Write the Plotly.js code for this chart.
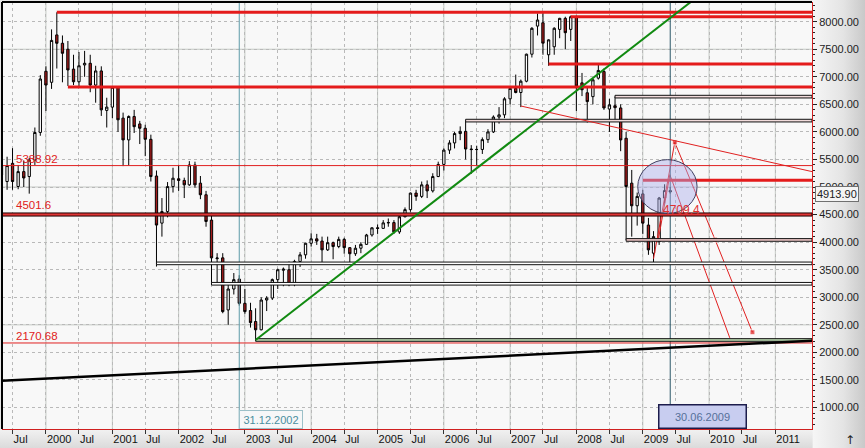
<!DOCTYPE html>
<html><head><meta charset="utf-8">
<script src="https://cdn.plot.ly/plotly-3.0.1.min.js"></script>
<style>html,body{margin:0;padding:0;background:#e8e8e8}#chart{width:865px;height:448px}</style>
</head><body><div id="chart"></div>
<script>
// ---- monthly candles (May 1999 .. Jun 2009) ----
const firstMonth = [1999, 5];
const opens = [
 5390,5100,5430,5010,5280,5190,5490,5990,
 7100,6900,7760,7608,7500,7140,6910,7215,7245,6850,7106,6390,
 6450,6810,6250,5855,6280,6145,6066,5866,5200,4345,4555,5008,
 5150,5120,5040,5400,5070,4860,4400,3700,3715,2770,3150,3330,
 2890,2760,2560,2410,2950,2985,3320,3490,3500,3260,3650,3770,
 3980,4060,4020,3860,3990,3920,4050,3900,3790,3890,3960,4130,
 4260,4250,4350,4355,4185,4460,4590,4890,4830,5040,4930,5190,
 5410,5670,5800,5970,6010,5690,5680,5682,5860,6000,6270,6310,
 6600,6790,6715,6920,7410,7920,7980,7400,7545,7860,8060,7860,
 8090,6890,6710,6640,6975,7095,6415,6475,6435,5885,5070,4660,
 4875,4310,3800,4010,4800,4935];
const highs = [
 5470,5550,5705,5400,5480,5530,6080,7030,
 7190,7860,8170,7750,7650,7400,7450,7470,7400,7200,7190,6620,
 6820,6830,6350,6300,6400,6200,6130,5950,5300,4800,5090,5350,
 5400,5170,5470,5460,5200,4930,4500,3800,3800,3240,3440,3400,
 3150,2900,2800,3000,3020,3340,3520,3540,3650,3680,3820,3990,
 4160,4150,4100,4100,4010,4100,4080,3910,3950,4000,4150,4270,
 4320,4400,4430,4400,4480,4630,4900,4950,5100,5120,5250,5460,
 5700,5850,6000,6100,6205,5760,5750,5900,6050,6300,6450,6630,
 6800,7040,6950,7420,7900,8150,8170,7680,7900,8070,8090,8110,
 8110,7070,6800,6970,7238,7150,6600,6640,6500,6000,5310,4900,
 4950,4440,4200,4820,5050,5000];
const lows = [
 5080,4950,4950,4960,5000,4880,5400,5930,
 6380,6780,7150,6900,6834,6850,6800,7000,6720,6530,6290,6080,
 6250,6000,5380,5390,5980,5780,5560,5100,3557,4100,4450,4900,
 4930,4800,5020,4990,4780,4280,3240,3250,2710,2500,3050,2850,
 2700,2450,2225,2400,2750,2950,3150,3200,3200,3200,3550,3700,
 3920,3950,3640,3840,3690,3890,3790,3620,3750,3800,3950,4100,
 4150,4240,4280,4150,4150,4450,4550,4750,4800,4800,4900,5180,
 5300,5600,5700,5850,5500,5240,5400,5600,5800,5980,6150,6250,
 6500,6700,6450,6900,7350,7750,7400,7200,7400,7700,7500,7650,
 6380,6650,6170,6500,6950,6400,6000,6200,5650,4040,4100,4300,
 4150,3770,3590,3950,4700,4880];
const closes = [
 5218,5390,5100,5280,5165,5490,5990,6960,
 6850,7660,7608,7427,7124,6910,7200,7245,6850,7106,6400,6450,
 6810,6220,5855,6280,6095,6066,5866,5190,4310,4555,5008,5160,
 5120,5040,5400,5040,4860,4375,3715,3712,2740,3150,3320,2890,
 2740,2540,2410,2950,2985,3320,3500,3510,3230,3650,3770,3980,
 4060,4020,3860,3990,3920,4050,3900,3790,3890,3960,4130,4260,
 4250,4350,4355,4185,4460,4590,4890,4830,5040,4930,5190,5410,
 5670,5800,5970,6010,5690,5680,5682,5860,6000,6270,6310,6600,
 6790,6715,6920,7410,7880,8030,7610,7670,7880,8060,7800,8090,
 6830,6765,6550,6945,7115,6435,6490,6440,5855,5010,4660,4830,
 4345,3860,4100,4800,4935,4913.9];
const lastPrice = 4913.90;

// ---- drawn levels / trendlines (date, value) ----
const fullRedLevels = [5388.92, 2170.68];
const fullRedLabels = ['5388.92', '2170.68'];
const bandLevel = 4501.6, bandLabel = '4501.6';
const thickRedStarts = ['2000-03-01', '2007-12-01', '2007-08-01', '2000-05-01', '2009-01-01'];
const thickRedValues = [8170, 8090, 7232, 6815, 5125];
const boxStarts = ['2008-08-01', '2006-05-01', '2008-10-01', '2001-09-01', '2002-07-01', '2003-03-01'];
const boxValues = [6640, 6205, 4040, 3615, 3245, 2225];
const boxFills = ['#f2dcdc', '#f2dcdc', '#efc8c8', '#ffffff', '#ffffff', '#b9d8b0'];
const longLine = {x: ['1999-05-04', '2011-07-22'], y: [1484, 2212]};
const greenLine = {x: ['2003-03-01', '2009-10-01'], y: [2225, 8380]};
const redFan = {x: ['2007-03-01', '2011-07-22'], y: [6470, 5280]};
const markDates = ['2002-12-01', '2009-06-01'];
const markLabels = ['31.12.2002', '30.06.2009'];
const circle = {x: ['2008-12-04', '2009-10-27'], y: [4518, 5497]};
const projA = {x: ['2009-03-01', '2009-06-26', '2010-02-03', '2010-08-28'], y: [3700, 5811, 4046, 2365]};
const projB = {x: ['2009-03-26', '2009-05-30', '2010-04-25'], y: [4016, 5225, 2264]};
const projText = {x: '2009-08-04', y: 4590, text: '4709.4'};
const cornerMark = '↑';

const xRange = ['1999-05-04', '2011-07-22'];
const yRange = [610, 8357];
const years = [2000,2001,2002,2003,2004,2005,2006,2007,2008,2009,2010,2011];

// ---- build ----
const months = [];
for (let i = 0; i < opens.length; i++) {
  const m0 = firstMonth[1] - 1 + i;
  const y = firstMonth[0] + Math.floor(m0 / 12), m = m0 % 12 + 1;
  months.push(y + '-' + String(m).padStart(2, '0') + '-01');
}
const tickvals = ['1999-07-01'], ticktext = ['Jul'];
years.forEach(y => { tickvals.push(y + '-01-01'); ticktext.push(String(y));
  if (y < 2011) { tickvals.push(y + '-07-01'); ticktext.push('Jul'); } });

const shapes = [];
years.forEach(y => shapes.push({type:'line', layer:'between', xref:'x', yref:'paper', x0:y+'-01-01', x1:y+'-01-01', y0:0, y1:1, line:{color:'#c3c8c3', width:1}}));
[2500, 5000, 7500].forEach(v => shapes.push({type:'line', layer:'between', xref:'paper', yref:'y', x0:0, x1:1, y0:v, y1:v, line:{color:'#c3c8c3', width:1}}));
shapes.push({type:'line', xref:'x', yref:'paper', x0:markDates[0], x1:markDates[0], y0:0, y1:1, line:{color:'#5d9aa8', width:1}});
shapes.push({type:'line', xref:'x', yref:'paper', x0:markDates[1], x1:markDates[1], y0:0, y1:1, line:{color:'#2c5868', width:1}});
fullRedLevels.forEach(v => shapes.push({type:'line', xref:'paper', yref:'y', x0:0, x1:1, y0:v, y1:v, line:{color:'#e02020', width:1}}));
shapes.push({type:'rect', xref:'paper', yref:'y', x0:0, x1:1, y0:bandLevel-28, y1:bandLevel+28, fillcolor:'#e03535', line:{color:'#200000', width:1}});
boxStarts.forEach((d, i) => shapes.push({type:'rect', xref:'x', yref:'y', x0:d, x1:xRange[1], y0:boxValues[i]-24, y1:boxValues[i]+24, fillcolor:boxFills[i], line:{color:'#101010', width:1}}));
thickRedStarts.forEach((d, i) => shapes.push({type:'line', xref:'x', yref:'y', x0:d, x1:xRange[1], y0:thickRedValues[i], y1:thickRedValues[i], line:{color:'#e41b1b', width:3}}));
shapes.push({type:'line', xref:'x', yref:'y', x0:longLine.x[0], x1:longLine.x[1], y0:longLine.y[0], y1:longLine.y[1], line:{color:'#000', width:2.5}});
shapes.push({type:'line', xref:'x', yref:'y', x0:greenLine.x[0], x1:greenLine.x[1], y0:greenLine.y[0], y1:greenLine.y[1], line:{color:'#118a11', width:2}});
shapes.push({type:'line', xref:'x', yref:'y', x0:redFan.x[0], x1:redFan.x[1], y0:redFan.y[0], y1:redFan.y[1], line:{color:'#e02020', width:1}});
shapes.push({type:'circle', xref:'x', yref:'y', x0:circle.x[0], x1:circle.x[1], y0:circle.y[0], y1:circle.y[1], fillcolor:'rgba(170,172,235,0.45)', line:{color:'#404060', width:1}});
shapes.push({type:'line', xref:'paper', yref:'paper', x0:0, x1:1, y0:1, y1:1, line:{color:'#000', width:2}});
shapes.push({type:'line', xref:'paper', yref:'paper', x0:0, x1:0, y0:0, y1:1, line:{color:'#000', width:2}});

const F = 'Liberation Sans, Arial, sans-serif';
const annotations = [];
fullRedLevels.forEach((v, i) => annotations.push({xref:'paper', yref:'y', x:0.0148, y:v, xanchor:'left', yanchor:'bottom', yshift:-1, text:fullRedLabels[i], showarrow:false, font:{family:F, size:11.5, color:'#e02020'}}));
annotations.push({xref:'paper', yref:'y', x:0.0148, y:bandLevel+28, xanchor:'left', yanchor:'bottom', text:bandLabel, showarrow:false, font:{family:F, size:11.5, color:'#e02020'}});
annotations.push({xref:'x', yref:'y', x:projText.x, y:projText.y, text:projText.text, showarrow:false, font:{family:F, size:12, color:'#e03030'}});
annotations.push({xref:'x', yref:'paper', x:markDates[0], y:0, xanchor:'left', yanchor:'bottom', text:markLabels[0], showarrow:false, width:60, height:15, bgcolor:'rgba(245,247,248,0.95)', bordercolor:'#9cc0c8', borderwidth:1, font:{family:F, size:11, color:'#4a8e9e'}});
annotations.push({xref:'x', yref:'paper', x:markDates[1], y:0, xanchor:'left', yanchor:'bottom', xshift:-12, text:markLabels[1], showarrow:false, width:84, height:20, bgcolor:'#c8cdf0', bordercolor:'#1c1c4c', borderwidth:1.5, font:{family:F, size:11, color:'#56709a'}});
annotations.push({xref:'paper', yref:'y', x:1, y:lastPrice, xanchor:'left', xshift:3, yshift:-2, text:lastPrice.toFixed(2), showarrow:false, bgcolor:'#f4f4f4', bordercolor:'#707070', borderwidth:1, borderpad:1, font:{family:F, size:11, color:'#222'}});
annotations.push({xref:'paper', yref:'paper', x:1.0555, y:0, yanchor:'top', yshift:-2, text:cornerMark, showarrow:false, font:{family:'DejaVu Sans', size:12, color:'#222'}});

const svg = (g) => 'data:image/svg+xml;charset=utf-8,' + encodeURIComponent(
  '<svg xmlns="http://www.w3.org/2000/svg" width="100" height="100" preserveAspectRatio="none"><defs>' + g +
  '</defs><rect width="100" height="100" fill="url(#g)"/></svg>');
const rightGrad = svg('<linearGradient id="g" x1="0" y1="0" x2="1" y2="0"><stop offset="0" stop-color="#f6f6f6"/><stop offset="0.55" stop-color="#e4e4e4"/><stop offset="1" stop-color="#c4c4c4"/></linearGradient>');
const bottomGrad = svg('<linearGradient id="g" x1="0" y1="0" x2="0" y2="1"><stop offset="0" stop-color="#f2f2f2"/><stop offset="1" stop-color="#d8d8d8"/></linearGradient>');
const images = [
  {source:rightGrad, xref:'paper', yref:'paper', x:1, y:1.01, sizex:0.07, sizey:1.06, sizing:'stretch', xanchor:'left', yanchor:'top', layer:'below'},
  {source:bottomGrad, xref:'paper', yref:'paper', x:-0.01, y:0, sizex:1.011, sizey:0.05, sizing:'stretch', xanchor:'left', yanchor:'top', layer:'below'}
];

const traces = [
 {type:'candlestick', x:months, open:opens, high:highs, low:lows, close:closes,
  increasing:{line:{color:'#000', width:1}, fillcolor:'#ffffff'},
  decreasing:{line:{color:'#000', width:1}, fillcolor:'#a51c1c'},
  whiskerwidth:0, hoverinfo:'skip', showlegend:false},
 {type:'scatter', mode:'lines+markers', x:projA.x, y:projA.y, line:{color:'#e02020', width:1},
  marker:{symbol:'square', size:[0,5,5,5], color:'#e02020'}, hoverinfo:'skip', showlegend:false},
 {type:'scatter', mode:'lines', x:projB.x, y:projB.y, line:{color:'#e02020', width:1}, hoverinfo:'skip', showlegend:false}
];

const layout = {
  width:865, height:448, margin:{l:2, r:53, t:2, b:19},
  paper_bgcolor:'#e6e6e6', plot_bgcolor:'#f8f8f8', showlegend:false,
  boxgap:0.35,
  font:{family:F, size:11, color:'#111'},
  images:images,
  xaxis:{type:'date', range:xRange, rangeslider:{visible:false}, tickvals:tickvals, ticktext:ticktext,
    ticklabelposition:'outside right', ticks:'outside', ticklen:4, tickcolor:'#333',
    showgrid:true, gridcolor:'#b9b9b9', griddash:'dot', gridwidth:1,
    showline:true, linecolor:'#d02020', linewidth:1, zeroline:false, fixedrange:true,
    tickfont:{family:F, size:11, color:'#111'}},
  yaxis:{side:'right', range:yRange, dtick:500, tick0:0, tickformat:'.2f',
    ticks:'outside', ticklen:4, tickcolor:'#222',
    minor:{dtick:100, ticks:'outside', ticklen:2, tickcolor:'#222', showgrid:false},
    showgrid:true, gridcolor:'#b9b9b9', griddash:'dot', gridwidth:1,
    showline:true, linecolor:'#d02020', linewidth:1, zeroline:false, fixedrange:true,
    tickfont:{family:F, size:11, color:'#222'}},
  shapes:shapes, annotations:annotations
};
Plotly.newPlot('chart', traces, layout, {staticPlot:true, displayModeBar:false});
</script></body></html>
